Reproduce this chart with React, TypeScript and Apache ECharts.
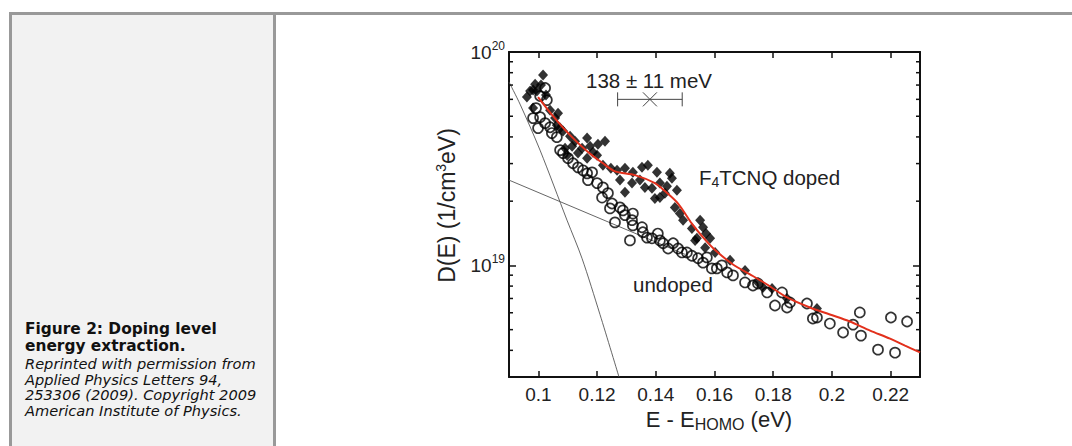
import React, { useEffect, useRef } from 'react';
import * as echarts from 'echarts';

// ---- axis settings ----
const xMin = 0.09;
const xMax = 0.23;
const xTickValues = [0.1, 0.12, 0.14, 0.16, 0.18, 0.2, 0.22];
const yMin = 3e18;
const yMax = 1e20;
const yMajorTicks = [1e19, 1e20];
const yMinorTicks = [4e18, 5e18, 6e18, 7e18, 8e18, 9e18, 2e19, 3e19, 4e19, 5e19, 6e19, 7e19, 8e19, 9e19];

// ---- F4TCNQ doped (filled diamonds) ----
const dopedE = [
  0.1016, 0.1009, 0.0989, 0.0972, 0.0961, 0.0982, 0.0995, 0.0982, 0.1026, 0.1057,
  0.1063, 0.1074, 0.1084, 0.1108, 0.1125, 0.1166, 0.1203, 0.1227, 0.1091, 0.1115,
  0.1098, 0.1135, 0.1166, 0.1220, 0.1186, 0.1247, 0.1268, 0.1295, 0.1322, 0.1353,
  0.1373, 0.1404, 0.1448, 0.1278, 0.1295, 0.1319, 0.1346, 0.1363, 0.1387, 0.1414,
  0.1455, 0.1431, 0.1397, 0.1472, 0.1465, 0.1482, 0.1493, 0.1523, 0.1540, 0.1561,
  0.1585, 0.1568, 0.1602, 0.1653, 0.1704, 0.1748, 0.1796, 0.1765, 0.1847, 0.1949,
  0.1040, 0.1067, 0.1149, 0.1176, 0.1200, 0.1414, 0.1438, 0.1534, 0.1551, 0.1571,
];
const dopedD = [
  7.8e19, 7.0e19, 7.07e19, 6.56e19, 6.15e19, 6.63e19, 6.56e19, 5.46e19, 6.28e19, 4.9e19,
  4.54e19, 4.4e19, 4.26e19, 4.03e19, 3.82e19, 3.95e19, 3.7e19, 3.82e19, 3.54e19, 3.62e19,
  3.28e19, 3.36e19, 3.18e19, 2.95e19, 3.39e19, 2.85e19, 2.79e19, 2.85e19, 2.73e19, 2.88e19,
  2.95e19, 2.73e19, 2.7e19, 2.51e19, 2.2e19, 2.43e19, 2.51e19, 2.32e19, 2.3e19, 2.43e19,
  2.56e19, 2.18e19, 2.06e19, 2.25e19, 1.87e19, 1.75e19, 1.63e19, 1.49e19, 1.34e19, 1.51e19,
  1.34e19, 1.21e19, 1.15e19, 1.056e19, 9.47e18, 8.32e18, 7.8e18, 7.88e18, 7.0e18, 6.28e18,
  5.34e19, 5.17e19, 3.54e19, 3.62e19, 3.28e19, 2.08e19, 2.35e19, 1.31e19, 1.63e19, 1.41e19,
];

// ---- undoped (open circles) ----
const undopedE = [
  0.1023, 0.1029, 0.1006, 0.0982, 0.1006, 0.0992, 0.1040, 0.1046, 0.1063, 0.1023,
  0.0999, 0.1074, 0.1084, 0.1101, 0.1118, 0.1135, 0.1152, 0.1166, 0.1183, 0.1169,
  0.1200, 0.1220, 0.1217, 0.1237, 0.1251, 0.1244, 0.1278, 0.1261, 0.1288, 0.1295,
  0.1319, 0.1322, 0.1322, 0.1312, 0.1353, 0.1356, 0.1370, 0.1387, 0.1407, 0.1414,
  0.1425, 0.1442, 0.1459, 0.1476, 0.1489, 0.1506, 0.1523, 0.1544, 0.1561, 0.1574,
  0.1591, 0.1608, 0.1625, 0.1643, 0.1663, 0.1704, 0.1731, 0.1748, 0.1779, 0.1806,
  0.1830, 0.1847, 0.1857, 0.1915, 0.1935, 0.1949, 0.1993, 0.2038, 0.2072, 0.2095,
  0.2099, 0.2157, 0.2201, 0.2215, 0.2256,
];
const undopedD = [
  6.78e19, 5.95e19, 6.22e19, 4.9e19, 4.95e19, 5.46e19, 4.44e19, 4.17e19, 3.99e19, 4.64e19,
  4.4e19, 3.47e19, 3.36e19, 3.18e19, 3.01e19, 2.88e19, 2.79e19, 2.7e19, 2.73e19, 2.51e19,
  2.43e19, 2.32e19, 2.08e19, 2.18e19, 1.95e19, 1.85e19, 1.87e19, 1.59e19, 1.81e19, 1.72e19,
  1.63e19, 1.75e19, 1.54e19, 1.31e19, 1.51e19, 1.43e19, 1.35e19, 1.34e19, 1.41e19, 1.31e19,
  1.27e19, 1.2e19, 1.27e19, 1.2e19, 1.15e19, 1.15e19, 1.11e19, 1.08e19, 1.03e19, 1.09e19,
  9.68e18, 9.68e18, 1.0e19, 9.27e18, 8.98e18, 8.32e18, 8.05e18, 8.23e18, 7.47e18, 6.49e18,
  7.47e18, 6.35e18, 6.7e18, 6.63e18, 5.64e18, 5.7e18, 5.34e18, 4.85e18, 5.28e18, 6.02e18,
  4.69e18, 4.03e18, 5.7e18, 3.9e18, 5.46e18,
];

// ---- fit to the doped data (red) ----
const fitE = [
  0.0999, 0.1050, 0.1108, 0.1166, 0.1220, 0.1261, 0.1329, 0.1397, 0.1431, 0.1476,
  0.1523, 0.1568, 0.1602, 0.1663, 0.1721, 0.1779, 0.1847, 0.1925, 0.1993, 0.2061,
  0.2130, 0.2198, 0.2249, 0.2300,
];
const fitD = [
  6.15e19, 5.01e19, 4.08e19, 3.43e19, 3.01e19, 2.76e19, 2.65e19, 2.43e19, 2.23e19, 1.95e19,
  1.57e19, 1.32e19, 1.18e19, 1.01e19, 9.08e18, 8.14e18, 7.08e18, 6.35e18, 5.89e18, 5.46e18,
  4.95e18, 4.54e18, 4.21e18, 3.91e18,
];

// ---- thin component curves ----
const steepE = [0.09, 0.09375, 0.10056, 0.10975, 0.11486, 0.12099, 0.12747];
const steepD = [7.23e19, 5.7e19, 3.47e19, 1.63e19, 1.08e19, 5.89e18, 3.0e18];
const tailE = [0.09, 0.15];
const tailD = [2.51e19, 1.126e19];

// ---- error bar annotation (138 ± 11 meV) ----
const errCenter = 0.138;
const errHalf = 0.011;
const errLevel = 6e19;

const zip = (a: number[], b: number[]) => a.map((v, i) => [v, b[i]]);

const FONT = 'Liberation Sans, Arial, sans-serif';
const TXT = '#222';

function Chart() {
  const ref = useRef<HTMLDivElement>(null);
  useEffect(() => {
    if (!ref.current) return;
    const chart = echarts.init(ref.current, undefined, { renderer: 'svg' });
    const axisLine = { show: true, lineStyle: { color: '#111', width: 2 } };
    chart.setOption({
      animation: false,
      grid: { left: 233, top: 37, right: 152, bottom: 69 },
      xAxis: [
        {
          type: 'value', min: xMin, max: xMax, position: 'bottom',
          axisLine, splitLine: { show: false },
          axisTick: { inside: true, length: 6, lineStyle: { color: '#111', width: 1.5 }, customValues: xTickValues },
          axisLabel: {
            customValues: xTickValues, margin: 8, fontSize: 19, fontFamily: FONT, color: TXT,
            formatter: (v: number) => String(Math.round(v * 100) / 100),
          },
          name: 'E - E{sub|HOMO} (eV)', nameLocation: 'middle', nameGap: 29,
          nameTextStyle: {
            fontSize: 22, fontFamily: FONT, color: TXT, padding: [0, 0, 0, 9],
            rich: { sub: { fontSize: 16, fontFamily: FONT, color: TXT, verticalAlign: 'bottom', padding: [9, 0, 0, 0] } },
          },
        },
        {
          type: 'value', min: xMin, max: xMax, position: 'top',
          axisLine, splitLine: { show: false },
          axisTick: { inside: true, length: 6, lineStyle: { color: '#111', width: 1.5 }, customValues: xTickValues },
          axisLabel: { show: false },
        },
      ],
      yAxis: [
        {
          type: 'log', min: yMin, max: yMax, position: 'left', logBase: 10,
          axisLine, splitLine: { show: false },
          axisTick: { inside: true, length: 7, lineStyle: { color: '#111', width: 1.5 }, customValues: yMajorTicks },
          axisLabel: {
            customValues: yMajorTicks, margin: 4, fontSize: 19, fontFamily: FONT, color: TXT,
            formatter: (v: number) => '10{sup|' + Math.round(Math.log10(v)) + '}',
            rich: { sup: { fontSize: 12, fontFamily: FONT, color: TXT, padding: [0, 0, 12, 0] } },
          },
          name: 'D(E) (1/cm{sup|3}eV)', nameLocation: 'middle', nameGap: 50,
          nameTextStyle: {
            fontSize: 23, fontFamily: FONT, color: TXT, padding: [0, 0, 0, 18],
            rich: { sup: { fontSize: 14, fontFamily: FONT, color: TXT, padding: [0, 0, 11, 0] } },
          },
        },
        {
          type: 'log', min: yMin, max: yMax, position: 'right', logBase: 10,
          axisLine, splitLine: { show: false },
          axisTick: { inside: true, length: 7, lineStyle: { color: '#111', width: 1.5 }, customValues: yMajorTicks },
          axisLabel: { show: false },
        },
      ],
      series: [
        {
          type: 'custom', name: 'minor', clip: false, silent: true,
          data: yMinorTicks.map((v) => [xMin, v]),
          renderItem: (params: any, api: any) => {
            const p = api.coord([api.value(0), api.value(1)]);
            const cs = params.coordSys;
            const st = { stroke: '#111', lineWidth: 1.5 };
            return {
              type: 'group',
              children: [
                { type: 'line', shape: { x1: cs.x, y1: p[1], x2: cs.x + 4, y2: p[1] }, style: st },
                { type: 'line', shape: { x1: cs.x + cs.width - 4, y1: p[1], x2: cs.x + cs.width, y2: p[1] }, style: st },
              ],
            };
          },
        },
        {
          type: 'line', data: zip(steepE, steepD), showSymbol: false, symbol: 'none', smooth: 0.3,
          lineStyle: { color: '#555', width: 0.9 }, z: 1,
        },
        {
          type: 'line', data: zip(tailE, tailD), showSymbol: false, symbol: 'none',
          lineStyle: { color: '#555', width: 0.9 }, z: 1,
        },
        {
          type: 'scatter', data: zip(dopedE, dopedD), symbol: 'diamond', symbolSize: [10, 11],
          itemStyle: { color: '#000' }, z: 2,
        },
        {
          type: 'scatter', data: zip(undopedE, undopedD), symbol: 'circle', symbolSize: 10,
          itemStyle: { color: 'rgba(0,0,0,0)', borderColor: '#000', borderWidth: 1.7 }, z: 3,
        },
        {
          type: 'line', data: zip(fitE, fitD), showSymbol: false, symbol: 'none', smooth: 0.3,
          lineStyle: { color: '#e2301c', width: 2 }, z: 4,
        },
        {
          type: 'custom', name: 'err', clip: false, silent: true,
          dimensions: ['x', 'y', 'e'],
          data: [[errCenter, errLevel, errHalf]],
          renderItem: (params: any, api: any) => {
            const x = api.value(0);
            const y = api.value(1);
            const e = api.value(2);
            const c = api.coord([x, y]);
            const l = api.coord([x - e, y]);
            const r = api.coord([x + e, y]);
            const st = { stroke: '#444', lineWidth: 1 };
            const k = 7;
            return {
              type: 'group',
              children: [
                { type: 'line', shape: { x1: l[0], y1: l[1], x2: r[0], y2: r[1] }, style: st },
                { type: 'line', shape: { x1: l[0], y1: l[1] - k, x2: l[0], y2: l[1] + k }, style: st },
                { type: 'line', shape: { x1: r[0], y1: r[1] - k, x2: r[0], y2: r[1] + k }, style: st },
                { type: 'line', shape: { x1: c[0] - k, y1: c[1] - k, x2: c[0] + k, y2: c[1] + k }, style: st },
                { type: 'line', shape: { x1: c[0] - k, y1: c[1] + k, x2: c[0] + k, y2: c[1] - k }, style: st },
              ],
            };
          },
          z: 5,
        },
      ],
      graphic: [
        {
          type: 'text', left: 310, top: 55,
          style: { text: '138 ± 11 meV', fontSize: 20.5, fontFamily: FONT, fill: TXT },
        },
        {
          type: 'text', left: 423, top: 152,
          style: {
            text: '{b|F}{s|4}{b|TCNQ doped}', fontFamily: FONT, fill: TXT,
            rich: {
              b: { fontSize: 20.5, fontFamily: FONT, fill: TXT },
              s: { fontSize: 14, fontFamily: FONT, fill: TXT, padding: [9, 0, 0, 0] },
            },
          },
        },
        {
          type: 'text', left: 357, top: 259,
          style: { text: 'undoped', fontSize: 20.5, fontFamily: FONT, fill: TXT },
        },
      ],
    });
    return () => chart.dispose();
  }, []);
  return <div ref={ref} style={{ position: 'absolute', left: 276, top: 15, width: 796, height: 431 }} />;
}

export default function App() {
  const gray = '#999';
  return (
    <div style={{ position: 'absolute', left: 0, top: 0, width: 1072, height: 446, background: '#fff', overflow: 'hidden' }}>
      <div style={{ position: 'absolute', left: 9, top: 12, width: 1063, height: 3, background: gray }} />
      <div style={{ position: 'absolute', left: 9, top: 12, width: 3, height: 434, background: gray }} />
      <div style={{ position: 'absolute', left: 12, top: 15, width: 261, height: 431, background: '#f2f2f2' }} />
      <div style={{ position: 'absolute', left: 273, top: 12, width: 3, height: 434, background: gray }} />
      <div style={{ position: 'absolute', left: 25, top: 321, whiteSpace: 'nowrap', fontFamily: 'DejaVu Sans, sans-serif', color: '#111' }}>
        <div style={{ fontWeight: 'bold', fontSize: 15.4, lineHeight: '17px' }}>
          Figure 2: Doping level<br />energy extraction.
        </div>
        <div style={{ fontStyle: 'italic', fontSize: 14.6, lineHeight: '15.7px', marginTop: 1 }}>
          Reprinted with permission from<br />Applied Physics Letters 94,<br />253306 (2009). Copyright 2009<br />American Institute of Physics.
        </div>
      </div>
      <Chart />
    </div>
  );
}
